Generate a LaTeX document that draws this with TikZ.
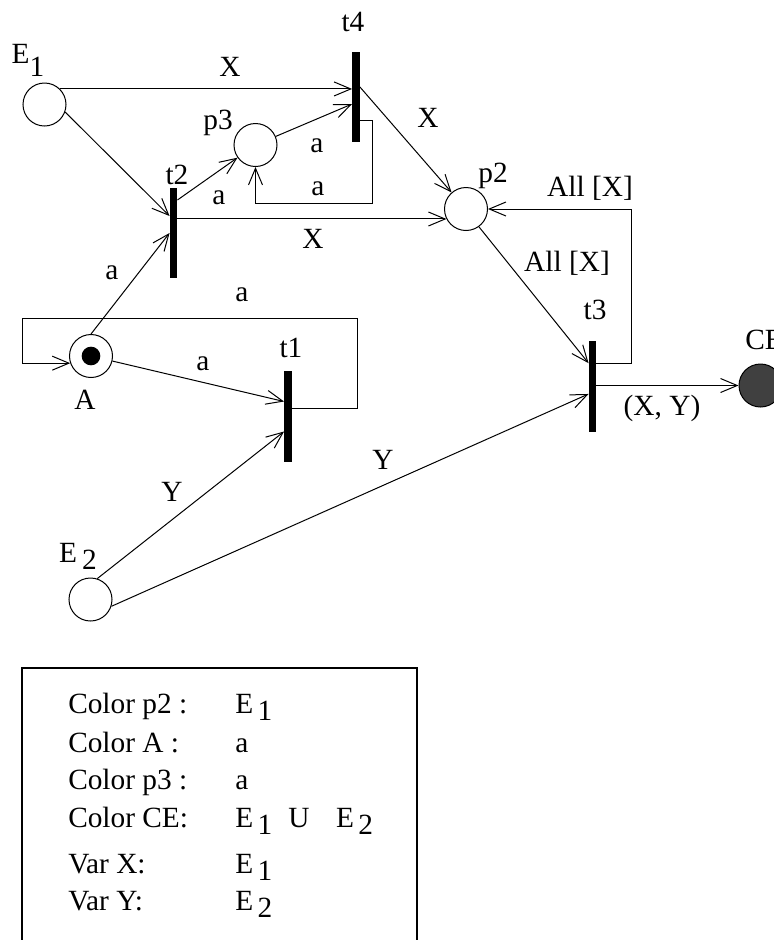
\documentclass[tikz,border=0pt]{standalone}
\usepackage{fontspec}
\setmainfont{Liberation Serif}
\usetikzlibrary{arrows.meta}
\tikzset{
  pn_place/.style={circle,draw,line width=0.75pt,
    minimum size=32.25pt,inner sep=0pt},
  pn_token/.style={circle,fill=black,minimum size=14pt,inner sep=0pt},
  pn_sink/.style={pn_place,fill=black!75},
  pn_trans/.style={rectangle,fill=black,
    minimum width=5.5pt,minimum height=68pt,inner sep=0pt},
  lbl/.style={font=\fontsize{22}{24}\selectfont,inner sep=0pt},
  key_txt/.style={font=\fontsize{22}{24}\selectfont,inner sep=0pt,anchor=base west},
  arr/.style={-{Straight Barb[length=12.5pt,width=10.5pt]},line width=0.75pt},
  link/.style={line width=0.9pt},
}
\newcommand{\Esub}[3][0.24em]{E\hspace{#2}\raisebox{-#1}{#3}}

\begin{document}
\begin{tikzpicture}[x=0.75pt,y=-0.75pt]
  \useasboundingbox (0,0) rectangle (774,940);
  \clip (0,0) rectangle (774,940);
  % places
  \node (E1) [pn_place] at (44.5,104.5) {};
  \node (p3) [pn_place] at (255.5,145) {};
  \node (p2) [pn_place] at (466,209) {};
  \node (A) [pn_place] at (91,356) {};
  \node (tok) [pn_token] at (A) {};
  \node (E2) [pn_place] at (90.5,599.5) {};
  \node (CE) [pn_sink] at (760.5,385.5) {};
  % transitions
  \node (t4) [pn_trans] at (356,97) {};
  \node (t2) [pn_trans] at (173.5,233) {};
  \node (t1) [pn_trans] at (288,416.5) {};
  \node (t3) [pn_trans] at (592.5,386.5) {};
  % loop corners
  \coordinate (c4) at (372,203);
  \coordinate (c3) at (631,209);
  \coordinate (c1) at (357,318);
  \coordinate (c0) at (22,318);
  % arcs
  \draw[arr] (E1.north east) -- (t4.west |- E1.north east);
  \draw[arr] (E1.-20) -- ([yshift=12.75pt]t2.west);
  \draw[arr] (A.north) -- (t2.west);
  \draw[arr] ([yshift=24.75pt]t2.east) -- (p3);
  \draw[arr] (p3) -- ([yshift=-5.25pt]t4.west);
  \draw[arr] (t4.east) ++(0,23) -| (c4) -| (p3.south);
  \draw[arr] ([yshift=7.5pt]t4.east) -- (p2);
  \draw[arr] (t2.east |- p2.207) -- (p2.207);
  \draw[arr] (p2.-54) -- ([yshift=17.5pt]t3.west);
  \draw[arr] (t3.east) ++(0,-23.5) -| (c3) -- (p2.east);
  \draw[arr] (t3.east |- CE) -- (CE);
  \draw[arr] (A) -- ([yshift=11.25pt]t1.west);
  \draw[arr] (t1.east) ++(0,-8.5) -| (c1) -- (c0) |- (A.199);
  \draw[arr] (E2.72) -- ([yshift=-11.25pt]t1.west);
  \draw[arr] (E2.-18) -- ([yshift=-5.6pt]t3.west);
  % labels
  \node (lE1) [lbl] at (28,60) {\Esub[0.44em]{0pt}{1}};
  \node (lX1) [lbl] at (230,67) {X};
  \node (lt4) [lbl] at (353,22) {t4};
  \node (lp3) [lbl] at (218,123) {p3};
  \node (la1) [lbl] at (317,146) {a};
  \node (la2) [lbl] at (318,189) {a};
  \node (lt2) [lbl] at (177,175) {t2};
  \node (la3) [lbl] at (219,198) {a};
  \node (lX2) [lbl] at (313,239) {X};
  \node (la4) [lbl] at (112,273) {a};
  \node (la5) [lbl] at (242,295) {a};
  \node (lX3) [lbl] at (428,118) {X};
  \node (lp2) [lbl] at (493,176) {p2};
  \node (lall1) [lbl] at (590,188) {All [X]};
  \node (lall2) [lbl] at (567,263) {All [X]};
  \node (lt3) [lbl] at (595,310) {t3};
  \node (lCE) [lbl,anchor=west] at (745,340) {CE};
  \node (lXY) [lbl] at (662,408) {(X, Y)};
  \node (la6) [lbl] at (203,364) {a};
  \node (lA) [lbl] at (85,400) {A};
  \node (lt1) [lbl] at (291,348) {t1};
  \node (lY1) [lbl] at (172,492) {Y};
  \node (lY2) [lbl] at (383,460) {Y};
  \node (lE2) [lbl] at (78,556) {\Esub{0.17em}{2}};
  % colour key
  \draw[link] (22,668) rectangle (417,960);
  \node (k1) [key_txt] at (68,713) {Color p2 :};
  \node (v1) [key_txt] at (235,713) {\Esub{0.15em}{1}};
  \node (k2) [key_txt] at (68,752) {Color A :};
  \node (v2) [key_txt] at (235,752) {a};
  \node (k3) [key_txt] at (68,789) {Color p3 :};
  \node (v3) [key_txt] at (235,789) {a};
  \node (k4) [key_txt] at (68,827) {Color CE:};
  \node (v4) [key_txt] at (235,827) {\Esub{0.15em}{1}\hspace{12pt}U\hspace{20pt}\Esub{0.15em}{2}};
  \node (k5) [key_txt] at (68,873) {Var X:};
  \node (v5) [key_txt] at (235,873) {\Esub{0.15em}{1}};
  \node (k6) [key_txt] at (68,910) {Var Y:};
  \node (v6) [key_txt] at (235,910) {\Esub{0.15em}{2}};
\end{tikzpicture}
\end{document}
